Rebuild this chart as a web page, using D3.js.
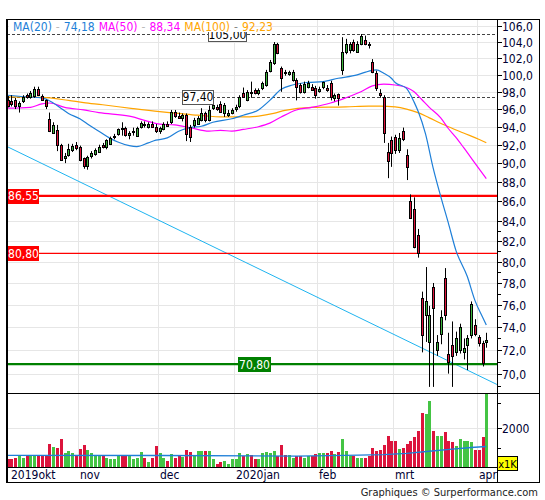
<!DOCTYPE html>
<html><head><meta charset="utf-8">
<script src="https://cdn.jsdelivr.net/npm/d3@7"></script>
<style>
body{margin:0;background:#fff}
text{font-family:"DejaVu Sans Condensed","DejaVu Sans",sans-serif;font-stretch:condensed}
</style>
</head><body>
<svg id="c" width="545" height="500"></svg>
<script>
// ---------- data ----------
const firstDay = "2019-10-07", lastDay = "2020-04-03";
const holidays = ["2019-12-25","2019-12-26","2020-01-01"];
const monthLabels = ["2019okt","nov","dec","2020jan","feb","mrt","apr"];

const opens  = [97.0,96.9,97.0,96.3,96.9,97.6,97.4,97.5,98.3,97.5,97.0,94.9,93.3,93.6,92.0,90.5,90.9,91.4,92.0,91.8,90.5,89.7,90.8,91.0,91.2,92.0,91.7,92.1,92.8,93.2,93.9,93.8,93.1,93.4,93.0,94.0,94.3,94.0,94.3,94.0,93.5,93.7,94.3,94.5,95.7,95.2,95.0,95.3,94.0,94.2,94.3,94.8,95.5,94.8,96.1,96.2,96.6,95.6,95.3,95.6,96.0,96.3,97.9,97.1,98.0,98.2,97.9,98.4,98.8,100.5,101.4,103.7,100.8,100.3,100.1,99.4,99.4,98.8,98.0,98.6,98.6,98.4,98.1,98.6,98.4,99.0,97.3,97.7,100.6,102.8,103.0,104.0,102.8,103.7,104.2,103.8,101.6,100.2,97.9,97.4,91.2,92.5,92.9,91.4,93.5,90.9,86.0,85.2,82.6,76.6,75.1,72.7,77.6,72.0,73.4,78.5,71.7,72.4,71.8,72.0,71.8,72.4,73.3,74.2,73.1,72.6,72.7];
const highs  = [97.5,97.6,97.3,96.9,97.6,97.8,98.1,98.6,98.6,97.7,97.1,95.6,94.5,94.2,92.1,91.1,92.1,92.1,92.3,91.9,90.6,90.8,91.3,91.6,92.0,92.2,92.6,92.9,93.2,93.8,94.5,94.0,93.5,93.9,94.0,94.6,94.6,94.5,94.6,94.3,94.0,94.5,94.6,95.9,95.9,95.6,95.5,95.5,94.2,95.0,95.2,96.1,95.7,96.4,96.8,96.5,96.9,96.7,95.9,96.1,96.5,97.6,98.5,98.2,99.2,98.4,98.4,99.2,100.6,101.8,104.0,103.9,101.0,100.6,100.5,100.6,99.6,99.0,99.2,99.3,98.9,98.7,98.6,99.2,98.8,99.3,97.8,97.8,104.6,104.4,104.0,104.3,104.1,105.0,104.8,104.0,101.9,100.5,98.3,97.6,92.2,92.9,93.1,93.3,93.9,91.5,86.7,86.4,83.2,77.2,79.5,75.9,78.0,73.3,75.5,79.4,73.5,74.5,73.6,74.3,73.0,73.3,76.3,74.7,73.3,72.8,73.5];
const lows   = [96.2,96.3,96.0,95.6,96.7,97.2,97.2,97.3,97.5,97.0,96.0,93.4,93.2,91.3,90.3,90.0,90.7,91.2,91.4,90.2,89.4,89.3,90.5,90.8,91.1,91.6,91.5,92.0,92.6,93.0,93.0,92.9,92.6,93.0,92.9,93.8,93.9,93.8,93.9,93.3,93.2,93.6,94.0,94.3,95.0,94.9,94.6,92.4,92.3,93.9,94.2,94.6,94.5,94.6,95.9,95.8,95.6,95.1,95.1,95.4,95.7,96.1,97.3,96.9,97.3,97.7,97.6,98.2,98.6,100.3,101.2,102.5,98.0,99.9,99.9,99.2,97.0,97.8,97.8,98.4,98.1,97.2,97.9,98.3,98.0,97.0,96.9,96.4,100.0,102.5,102.6,102.8,102.7,103.6,103.6,103.2,100.2,98.1,97.3,92.2,88.4,89.6,91.0,91.1,92.4,88.2,84.2,81.3,80.4,71.8,72.7,68.9,68.9,71.5,72.5,74.6,70.0,68.9,71.5,71.7,71.2,70.3,73.0,73.2,72.3,70.6,72.2];
const closes = [96.4,96.6,96.3,96.7,97.4,97.4,97.9,98.3,97.6,97.1,96.3,93.5,94.2,92.0,90.3,90.8,91.5,91.9,91.6,90.3,89.7,90.7,91.1,91.4,91.8,91.7,92.5,92.7,93.0,93.7,93.8,93.1,93.3,93.5,93.9,94.4,94.2,94.3,94.0,93.5,93.8,94.3,94.1,95.7,95.2,95.0,95.3,93.2,92.9,94.8,95.0,95.5,94.7,95.9,96.5,96.0,95.7,96.5,95.6,95.9,96.2,97.4,97.4,98.0,97.9,97.9,98.2,99.0,100.4,101.5,103.7,102.7,99.6,100.2,100.3,100.4,98.6,98.0,98.9,99.0,98.2,97.6,98.3,99.1,98.2,97.4,97.6,97.3,102.8,103.8,103.8,103.0,103.8,104.7,103.7,103.6,100.4,98.4,97.6,93.3,90.2,91.1,91.4,92.7,92.6,89.6,84.3,81.4,80.8,73.3,76.3,75.1,75.7,72.7,74.9,75.1,71.0,71.5,73.0,74.0,72.2,73.0,76.1,73.4,72.6,70.9,72.9];
const volumes = [386,386,439,561,439,561,561,561,561,561,561,1175,1035,965,1438,737,824,702,561,912,1140,860,737,596,561,596,439,386,386,561,561,561,561,386,439,772,474,246,474,1070,702,474,333,649,439,561,509,860,772,561,807,807,807,807,421,175,246,298,175,421,421,702,561,649,614,421,386,702,754,737,807,561,1123,631,596,474,579,579,439,579,579,649,737,737,702,842,649,754,1438,824,561,561,474,474,474,561,965,824,877,1123,1596,1316,1316,912,965,1175,1351,1561,1824,2754,2701,3403,1859,1596,1596,1789,1316,1263,1052,1438,1351,1316,1263,860,860,1544,4100];

const ma20Idx = [0,5,9,12,14,16,19,21,24,27,29,32,34,37,39,42,45,48,51,54,59,62,66,69,72,75,79,83,87,92,94,97,99,101,102,105,107,108,110,112,114,116,118,121,123,125,126];
const ma20Val = [97.6,97.4,97.3,96.7,96.1,95.5,94.9,94.3,93.5,92.7,92.3,91.9,91.8,92.2,92.5,92.75,93.5,93.9,94.05,94.5,94.9,95.3,95.9,97.0,98.3,98.8,99.1,99.2,99.6,100.0,100.3,100.6,100.2,99.6,99.1,98.4,96.8,95.8,93.2,89.5,86.5,83.8,81.1,78.6,76.4,74.9,74.18];
const ma50Idx = [0,6,9,11,15,20,24,32,40,44,48,53,56,59,62,66,69,72,76,80,85,89,93,96,99,102,105,107,109,111,114,116,118,120,123,126];
const ma50Val = [96.1,96.2,96.6,96.7,96.2,95.9,95.6,95.2,94.3,94.2,93.9,93.5,93.6,93.5,93.7,94.0,94.4,95.1,95.9,96.2,96.7,97.3,98.0,98.7,98.9,98.8,98.5,98.0,97.1,96.2,95.0,93.8,92.8,91.7,90.0,88.34];
const ma100Idx = [0,9,16,20,25,33,40,45,50,57,62,66,70,73,80,89,95,98,102,105,108,111,115,120,124,126];
const ma100Val = [97.4,97.35,97.0,96.75,96.5,96.05,95.7,95.5,95.3,95.1,95.1,95.2,95.5,95.85,96.2,96.25,96.35,96.35,96.25,96.0,95.6,95.0,94.2,93.3,92.6,92.23];
const volMaIdx = [0,40,76,89,99,105,111,117,122,126];
const volMaVal = [596,590,561,596,631,702,807,912,1000,1052];

// trend line (value at left and right edge) and horizontal levels
const trendIdx = [-0.18, 128.8];
const trendVal = [91.8, 69.1];
const levelDashed = [105.00, 97.40];
const levelRed = [86.55, 80.80];
const levelGreen = [70.80];

const priceTicks = d3.range(70, 107, 2);
const priceMinor = d3.range(69, 84, 2);
const volTicks = [2000];
const volMinor = [1000, 3300];

// ---------- layout ----------
const L=7, R=497, RR=539, T=19, PB=393, VB=467, B=482;
const N = closes.length;
const svg = d3.select("#c");
const loc = d3.formatLocale({decimal:",", thousands:".", grouping:[3], currency:["",""]});
const f1 = loc.format(".1f"), f2 = loc.format(".2f");

const fmtDay = d3.timeFormat("%Y-%m-%d");
const parse = d3.timeParse("%Y-%m-%d");
const days = d3.timeDay.range(parse(firstDay), d3.timeDay.offset(parse(lastDay),1))
  .filter(d => d.getDay()%6 !== 0 && !holidays.includes(fmtDay(d)));

const x = d3.scaleLinear().domain([0, N-1]).range([7.7, 486.3]);
const y = d3.scaleLog().domain([68.4, 106.9]).range([PB, T]);
const vy = d3.scaleLinear().domain([0, 3795]).range([VB, PB]);

const GREEN = "#3db43d", RED = "#dc143c", VGREEN = "#44c444";
const C20 = "#1e7fd8", C50 = "#ff00ff", C100 = "#ffa500";

// clip
const defs = svg.append("defs");
defs.append("clipPath").attr("id","pc").append("rect").attr("x",L).attr("y",T).attr("width",R-L).attr("height",PB-T);
defs.append("clipPath").attr("id","vc").append("rect").attr("x",L).attr("y",PB).attr("width",R-L).attr("height",VB-PB);

// month starts
const monthStarts = [];
days.forEach((d,i)=>{ if(i===0 || d.getMonth()!==days[i-1].getMonth()) monthStarts.push(i); });

// grid
const grid = svg.append("g").attr("stroke","#e6e6e6").attr("stroke-width",1).attr("shape-rendering","crispEdges");
priceTicks.forEach(v=>grid.append("line").attr("x1",L).attr("x2",R).attr("y1",Math.round(y(v))+0.5).attr("y2",Math.round(y(v))+0.5));
volTicks.forEach(v=>grid.append("line").attr("x1",L).attr("x2",R).attr("y1",Math.round(vy(v))+0.5).attr("y2",Math.round(vy(v))+0.5));
monthStarts.slice(1).forEach(i=>{
  const gx = Math.round(x(i-0.5))+0.5;
  grid.append("line").attr("x1",gx).attr("x2",gx).attr("y1",T).attr("y2",VB);
});

const pg = svg.append("g").attr("clip-path","url(#pc)");

// trend line
pg.append("path").attr("d", d3.line().x((d,k)=>x(trendIdx[k])).y(d=>y(d))(trendVal))
  .attr("stroke","#1fb4f0").attr("stroke-width",1).attr("fill","none");

// dashed levels
levelDashed.forEach(v=>{
  const yy = Math.round(y(v))+0.5;
  pg.append("line").attr("x1",L).attr("x2",R).attr("y1",yy).attr("y2",yy)
    .attr("stroke","#444").attr("stroke-dasharray","3,2").attr("shape-rendering","crispEdges");
});
// red & green levels
levelRed.forEach((v,k)=>{
  const yy = y(v);
  pg.append("line").attr("x1",L).attr("x2",R).attr("y1",yy).attr("y2",yy)
    .attr("stroke","#ff0000").attr("stroke-width",k===0?2.2:1.2);
});
levelGreen.forEach(v=>{
  const yy = y(v);
  pg.append("line").attr("x1",L).attr("x2",R).attr("y1",yy).attr("y2",yy)
    .attr("stroke","#008000").attr("stroke-width",2.2);
});

// moving averages
const maLine = d3.line().x(d=>x(d[0])).y(d=>y(d[1])).curve(d3.curveMonotoneX);
[[ma100Idx,ma100Val,C100],[ma50Idx,ma50Val,C50],[ma20Idx,ma20Val,C20]].forEach(([ix,vv,c])=>{
  pg.append("path").attr("d", maLine(ix.map((d,k)=>[d,vv[k]]))).attr("fill","none").attr("stroke",c).attr("stroke-width",1.2);
});

// candles
const cg = pg.append("g");
closes.forEach((c,i)=>{
  const o = opens[i], cx = Math.round(x(i));
  cg.append("line").attr("x1",cx+0.5).attr("x2",cx+0.5).attr("y1",y(highs[i])).attr("y2",y(lows[i]))
    .attr("stroke","#000").attr("stroke-width",1);
  const y0 = Math.round(y(Math.max(o,c))), y1 = Math.round(y(Math.min(o,c)));
  cg.append("rect").attr("x",cx-0.5).attr("y",y0+0.5).attr("width",2).attr("height",Math.max(1,y1-y0))
    .attr("fill", c>=o ? GREEN : RED).attr("stroke","#000").attr("stroke-width",1);
});

// volume bars
const vg = svg.append("g").attr("clip-path","url(#vc)").attr("shape-rendering","crispEdges");
volumes.forEach((v,i)=>{
  const cx = Math.round(x(i));
  vg.append("rect").attr("x",cx-1).attr("width",3).attr("y",vy(v)).attr("height",VB-vy(v))
    .attr("fill", closes[i]>=opens[i] ? VGREEN : RED);
});
vg.append("path").attr("d", d3.line().x(d=>x(d[0])).y(d=>vy(d[1]))(volMaIdx.map((d,k)=>[d,volMaVal[k]])))
  .attr("fill","none").attr("stroke",C20).attr("stroke-width",1.3).attr("shape-rendering","auto");

// frame
const fr = svg.append("g").attr("stroke","#000").attr("fill","none").attr("shape-rendering","crispEdges");
fr.append("rect").attr("x",L-0.5).attr("y",T+0.5).attr("width",RR-L+1).attr("height",B-T);
fr.append("line").attr("x1",L+0.5).attr("x2",L+0.5).attr("y1",T).attr("y2",B);
fr.append("line").attr("x1",R+0.5).attr("x2",R+0.5).attr("y1",T).attr("y2",B);
fr.append("line").attr("x1",L).attr("x2",RR).attr("y1",PB+0.5).attr("y2",PB+0.5);
fr.append("line").attr("x1",L).attr("x2",R).attr("y1",VB+0.5).attr("y2",VB+0.5);

// level label boxes
function box(xl, v, txt, fill, stroke, color, w){
  const yy = y(v);
  svg.append("rect").attr("x",xl+0.5).attr("y",Math.round(yy-7)+0.5).attr("width",w).attr("height",14)
    .attr("fill",fill).attr("stroke",stroke).attr("stroke-width",1);
  svg.append("text").attr("x",xl+w/2+0.5).attr("y",yy+4.5).attr("text-anchor","middle")
    .attr("font-size",12).attr("fill",color).text(txt);
}
box(208, levelDashed[0], f2(levelDashed[0]), "#fff", "#555", "#000", 38);
box(182, levelDashed[1], f2(levelDashed[1]), "#fff", "#555", "#000", 31);
box(8, levelRed[0], f2(levelRed[0]), "#ff0000", "#ff0000", "#fff", 30);
box(8, levelRed[1], f2(levelRed[1]), "#ff0000", "#ff0000", "#fff", 30);
box(238, levelGreen[0], f2(levelGreen[0]), "#008000", "#008000", "#fff", 32);

// legend
svg.append("rect").attr("x",L+2).attr("y",T+1).attr("width",241).attr("height",12).attr("fill","#fff");
const legItems = [["MA(20)",C20],["-","#bbb"],[f2(ma20Val[ma20Val.length-1]),C20],
                  ["MA(50)",C50],["-","#bbb"],[f2(ma50Val[ma50Val.length-1]),C50],
                  ["MA(100)",C100],["-","#888"],[f2(ma100Val[ma100Val.length-1]),C100]];
let lx = 13;
legItems.forEach(([t,c])=>{
  const el = svg.append("text").attr("x",lx).attr("y",31).attr("font-size",12).attr("fill",c).text(t);
  lx += el.node().getComputedTextLength() + 4;
});

// price axis
const ax = svg.append("g");
priceTicks.forEach(v=>{
  const yy = Math.round(y(v))+0.5;
  ax.append("line").attr("x1",R).attr("x2",R+5).attr("y1",yy).attr("y2",yy).attr("stroke","#000").attr("shape-rendering","crispEdges");
  ax.append("text").attr("x",R+5).attr("y",yy+4).attr("font-size",12).attr("fill","#000033").text(f1(v));
});
priceMinor.forEach(v=>{
  const yy = Math.round(y(v))+0.5;
  ax.append("line").attr("x1",R).attr("x2",R+4).attr("y1",yy).attr("y2",yy).attr("stroke","#000").attr("shape-rendering","crispEdges");
});
// volume axis
volTicks.forEach(v=>{
  const yy = Math.round(vy(v))+0.5;
  ax.append("line").attr("x1",R).attr("x2",R+5).attr("y1",yy).attr("y2",yy).attr("stroke","#000").attr("shape-rendering","crispEdges");
  ax.append("text").attr("x",R+5).attr("y",yy+4).attr("font-size",12).attr("fill","#000033").text(v);
});
volMinor.forEach(v=>{
  const yy = Math.round(vy(v))+0.5;
  ax.append("line").attr("x1",R).attr("x2",R+4).attr("y1",yy).attr("y2",yy).attr("stroke","#000").attr("shape-rendering","crispEdges");
});
svg.append("rect").attr("x",R+0.5).attr("y",456.5).attr("width",20).attr("height",14).attr("fill","#ffff00").attr("stroke","#000");
svg.append("text").attr("x",R+10.5).attr("y",467.5).attr("text-anchor","middle").attr("font-size",11).attr("fill","#000").text("x1K");

// month labels
monthStarts.forEach((i,k)=>{
  const lxm = k===0 ? L+4 : Math.round(x(i-0.5))+2;
  svg.append("text").attr("x",lxm).attr("y",479).attr("font-size",12).attr("fill","#000033").text(monthLabels[k]);
});

// caption
svg.append("text").attr("x",538).attr("y",496).attr("text-anchor","end").attr("font-size",11).attr("fill","#222")
  .text("Graphiques © Surperformance.com");
</script>
</body></html>
